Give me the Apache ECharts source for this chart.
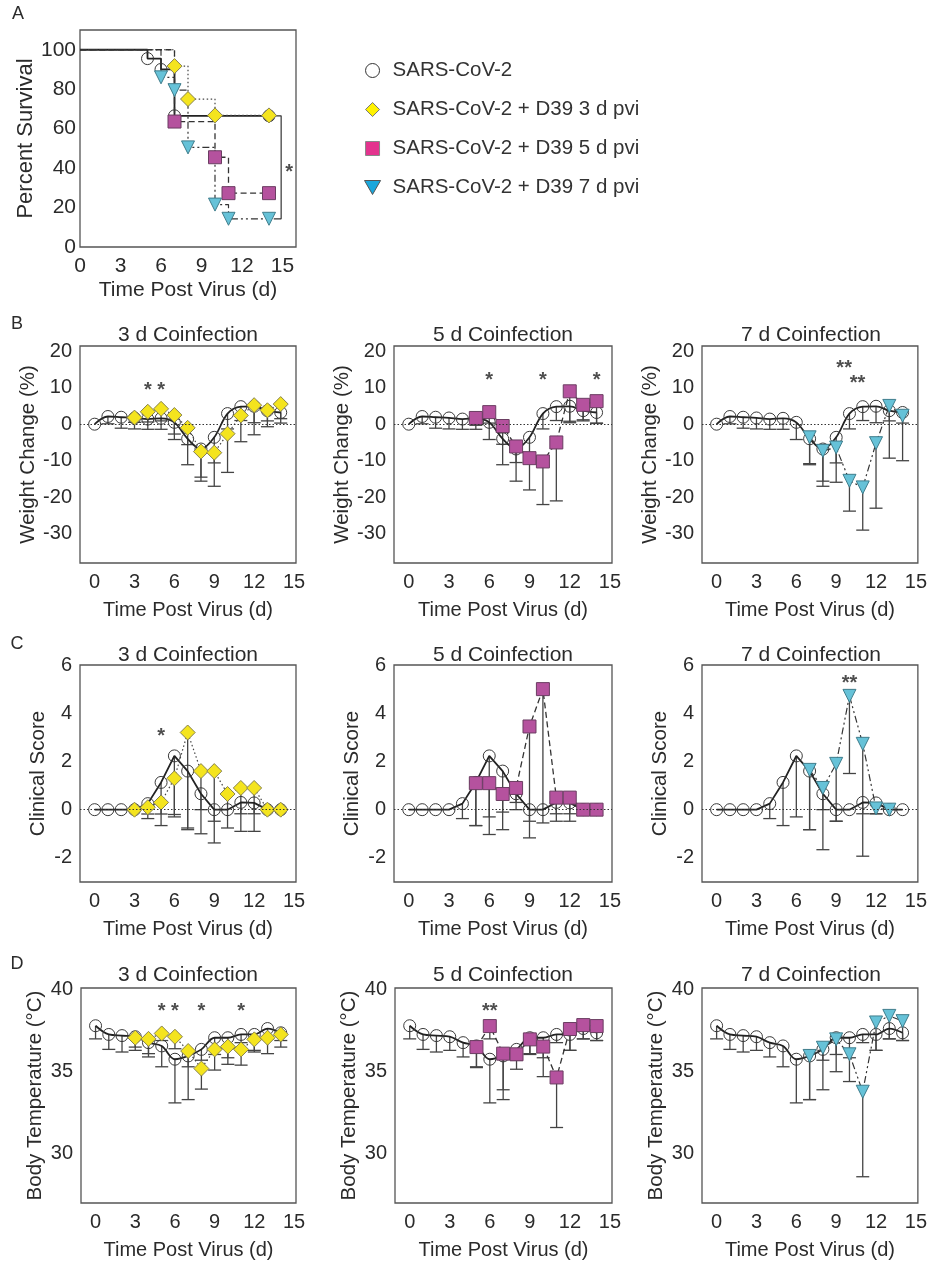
<!DOCTYPE html>
<html>
<head>
<meta charset="utf-8">
<script src="https://cdn.jsdelivr.net/npm/echarts@6/dist/echarts.min.js"></script>
<style>html,body{margin:0;background:#fff}#chart{width:930px;height:1264px}</style>
</head>
<body>
<div id="chart"></div>
<script>
// ---- data ----
var days = [0,1,2,3,4,5,6,7,8,9,10,11,12,13,14];
var days3 = [3,4,5,6,7,8,9,10,11,12,13,14];
var days5 = [5,6,7,8,9,10,11,12,13,14];
var days7 = [7,8,9,10,11,12,13,14];
var days7c = [7,8,9,10,11,12,13];

// A: survival (day, percent)
var survSars = [[0,100],[5,95.5],[6,90],[7,66.5],[14,66.5]];
var surv3d = [[0,100],[7,91.7],[8,75],[10,66.7],[14,66.7]];
var surv5d = [[0,100],[7,63.6],[10,45.5],[11,27.3],[14,27.3]];
var surv7d = [[0,100],[6,86],[7,79.5],[8,50.5],[10,21.5],[11,14.3],[14,14.3]];
var bracketA = [[14.35,66.5],[14.9,66.5],[14.9,14.3],[14.35,14.3]];
var starsA = [[15.5,40.5,'*']];

// B: weight change (mean, lower error)
var wSars   = [0,2.1,1.9,1.7,1.4,1.6,0.5,-4.0,-6.8,-3.6,2.9,4.8,4.9,3.7,3.2];
var wSarsLo = [0,0.1,-1.1,-1.3,-1.4,-1.4,-4.2,-11.1,-15.6,-10.6,-1.3,1.0,0.4,0.9,0.3];
var w3d   = [1.8,3.4,4.2,2.5,-1.0,-7.5,-7.8,-2.6,2.4,5.2,3.8,5.5];
var w3dLo = [0.5,0.6,0.9,-2.7,-5.6,-14.5,-17.0,-13.2,-4.8,-2.9,-0.7,1.5];
var w5d   = [1.7,3.3,-0.5,-6.1,-9.3,-10.2,-5.0,9.0,5.3,6.3];
var w5dLo = [-0.3,0.3,-5.5,-10.5,-18.0,-22.0,-21.0,0.8,1.2,0.2];
var w7d   = [-3.6,-7.3,-6.4,-15.5,-17.3,-5.2,5.0,2.3];
var w7dLo = [-10.8,-17.0,-15.9,-23.8,-29.0,-23.0,-9.3,-10.0];
var starsB3 = [[4,10.5,'*'],[5,10.5,'*']];
var starsB5 = [[6,13.4,'*'],[10,13.4,'*'],[14,13.4,'*']];
var starsB7 = [[9.6,16.6,'**'],[10.6,12.5,'**']];

// C: clinical score
var cSars   = [0,0,0,0,0.25,1.13,2.23,1.6,0.66,0,0,0.3,0.28,0,0];
var cSarsLo = [0,0,0,0,-0.37,-0.66,-0.3,-0.83,0,-0.48,0,-0.17,-0.17,0,0];
var c3d   = [0,0.1,0.3,1.3,3.2,1.6,1.6,0.65,0.9,0.9,0,0];
var c3dLo = [0,-0.18,-0.18,-0.2,-0.76,-1.0,-1.38,-0.76,-0.9,-0.9,0,0];
var c5d   = [1.1,1.1,0.65,0.9,3.45,5.0,0.5,0.5,0,0];
var c5dLo = [-0.66,-1.03,-0.1,0.3,-1.17,-0.55,-0.48,-0.48,0,0];
var c7d   = [1.65,0.9,1.9,4.72,2.73,0.05,0];
var c7dLo = [-0.83,-1.66,-0.48,1.5,-1.93,-0.17,0];
var starsC3 = [[5,3.25,'*']];
var starsC7 = [[10,5.45,'**']];

// D: body temperature
var tSars   = [37.8,37.27,37.2,37.13,36.77,36.57,35.76,35.96,36.36,37.07,37.07,37.27,37.27,37.63,37.37];
var tSarsLo = [37.0,36.36,36.2,36.3,35.9,35.3,33.1,33.3,35.7,36.05,35.85,36.77,36.3,37.0,36.9];
var t3d   = [37.07,37.0,37.33,37.13,36.26,35.19,36.36,36.53,36.36,36.97,37.07,37.27];
var t3dLo = [36.5,36.1,36.9,36.4,35.3,33.94,35.1,35.45,35.4,36.2,36.1,36.5];
var t5d   = [36.5,37.78,36.1,36.06,36.97,36.53,34.65,37.6,37.84,37.78];
var t5dLo = [35.25,37.0,33.9,35.15,36.1,34.7,31.6,36.3,37.0,36.9];
var t7d   = [35.96,36.46,36.97,36.06,33.78,38.0,38.4,38.08];
var t7dLo = [33.3,33.9,35.0,34.4,28.6,36.3,37.0,36.9];
var starsD3 = [[5,39,'*'],[6,39,'*'],[8,39,'*'],[11,39,'*']];
var starsD5 = [[6,39,'**']];

var xTicks = [0,3,6,9,12,15];

// ---- styles ----
var ff = "'Liberation Sans', Arial, sans-serif";
var txt = '#2b2b2b';
var grp = {
  sars: {name:'SARS-CoV-2', symbol:'circle', size:12, rot:0, fill:'rgba(255,255,255,0)', border:'#3a3a3a', line:'#222', width:1.8, type:'solid'},
  d3: {name:'SARS-CoV-2 + D39 3 d pvi', symbol:'diamond', size:15, rot:0, fill:'#F4E41E', border:'#87824f', line:'#444', width:1.2, type:[1.5,2.5]},
  d5: {name:'SARS-CoV-2 + D39 5 d pvi', symbol:'rect', size:13, rot:0, fill:'#B5529E', border:'#6b3d62', line:'#333', width:1.3, type:[6,3.5]},
  d7: {name:'SARS-CoV-2 + D39 7 d pvi', symbol:'triangle', size:13, rot:180, fill:'#66C2D8', border:'#3f7d8c', line:'#333', width:1.2, type:[7,3,2,3,2,3]}
};

var grids = [
  {left:80, top:30, width:216, height:217},
  {left:80, top:346, width:216, height:217},
  {left:394, top:346, width:218, height:217},
  {left:702, top:346, width:218, height:217},
  {left:80, top:665, width:216, height:217},
  {left:394, top:665, width:218, height:217},
  {left:702, top:665, width:218, height:217},
  {left:81, top:988, width:215, height:215},
  {left:395, top:988, width:217, height:215},
  {left:702, top:988, width:216, height:215}
];

function xAx(gi, min, max, gap, fs) {
  return {type:'value', gridIndex:gi, min:min, max:max,
    name:'Time Post Virus (d)', nameLocation:'middle', nameGap:gap,
    nameTextStyle:{fontSize:fs, color:txt, fontFamily:ff},
    axisLine:{show:false}, axisTick:{show:false}, splitLine:{show:false},
    axisLabel:{customValues:xTicks, fontSize:fs, color:txt, margin:9, fontFamily:ff}};
}
function yAx(gi, name, min, max, ticks, gap, margin, fs, nfs) {
  return {type:'value', gridIndex:gi, min:min, max:max,
    name:name, nameLocation:'middle', nameGap:gap,
    nameTextStyle:{fontSize:nfs, color:txt, fontFamily:ff},
    axisLine:{show:false}, axisTick:{show:false}, splitLine:{show:false},
    axisLabel:{customValues:ticks, fontSize:fs, color:txt, margin:margin, fontFamily:ff}};
}

function lineSeries(gi, g, data, opts) {
  var s = {type:'line', name:g.name, xAxisIndex:gi, yAxisIndex:gi, data:data,
    symbol:g.symbol, symbolSize:g.size, symbolRotate:g.rot, z:3,
    itemStyle:{color:g.fill, borderColor:g.border, borderWidth:1},
    lineStyle:{color:g.line, width:g.width, type:g.type},
    emphasis:{disabled:true}};
  return Object.assign(s, opts || {});
}
function pairs(xs, ys) { return xs.map(function (x, i) { return [x, ys[i]]; }); }
function renderErr(params, api) {
  var x = api.value(0), m = api.value(1), lo = api.value(2);
  if (m - lo < 0.02) return null;
  var p1 = api.coord([x, m]), p2 = api.coord([x, lo]);
  var st = {stroke:'#444', lineWidth:1.3};
  return {type:'group', children:[
    {type:'line', shape:{x1:p1[0], y1:p1[1], x2:p2[0], y2:p2[1]}, style:st},
    {type:'line', shape:{x1:p2[0]-6.5, y1:p2[1], x2:p2[0]+6.5, y2:p2[1]}, style:st}
  ]};
}
function errSeries(gi, xs, ys, lo) {
  return {type:'custom', xAxisIndex:gi, yAxisIndex:gi, z:2, silent:true,
    renderItem:renderErr, encode:{x:0, y:[1,2]},
    data: xs.map(function (x, i) { return [x, ys[i], lo[i]]; })};
}
function starSeries(gi, pts) {
  return {type:'scatter', xAxisIndex:gi, yAxisIndex:gi, symbolSize:1, z:5, silent:true,
    itemStyle:{color:'rgba(0,0,0,0)'},
    data: pts.map(function (p) { return {value:[p[0], p[1]], name:p[2]}; }),
    label:{show:true, position:'inside', formatter:'{b}', fontSize:20, fontWeight:'bold', color:'#222', offset:[0,5], fontFamily:ff}};
}
var zeroLine = {silent:true, symbol:['none','none'], label:{show:false},
  lineStyle:{type:[1.5,2], color:'#333', width:1}, data:[{yAxis:0}]};

var xAxes = [xAx(0, 0, 16, 33, 21)];
var yAxes = [yAx(0, 'Percent Survival', 0, 110, [0,20,40,60,80,100], 39, 4, 21, 22)];
var series = [];

// Panel A
function survData(arr) {
  return arr.map(function (p, i) { return i === 0 ? {value:p, symbol:'none'} : {value:p}; });
}
series.push(lineSeries(0, grp.sars, survData(survSars), {step:'end'}));
series.push(lineSeries(0, grp.d3, survData(surv3d), {step:'end'}));
series.push(lineSeries(0, grp.d5, survData(surv5d), {step:'end'}));
series.push(lineSeries(0, grp.d7, survData(surv7d), {step:'end'}));
series.push({type:'line', xAxisIndex:0, yAxisIndex:0, data:bracketA, symbol:'none', silent:true,
  lineStyle:{color:'#333', width:1.2}});
series.push(starSeries(0, starsA));

// Panels B, C, D
var rows = [
  {name:'Weight Change (%)', min:-38, max:21.4, ticks:[-30,-20,-10,0,10,20], gap:41, smooth:0.35, zero:true,
   sars:[wSars, wSarsLo],
   groups:[[days3, w3d, w3dLo, starsB3], [days5, w5d, w5dLo, starsB5], [days7, w7d, w7dLo, starsB7]]},
  {name:'Clinical Score', min:-3, max:6, ticks:[-2,0,2,4,6], gap:31, smooth:false, zero:true,
   sars:[cSars, cSarsLo],
   groups:[[days3, c3d, c3dLo, starsC3], [days5, c5d, c5dLo, []], [days7c, c7d, c7dLo, starsC7]]},
  {name:'Body Temperature (\u00B0C)', min:27, max:40.1, ticks:[30,35,40], gap:35, smooth:0.35, zero:false,
   sars:[tSars, tSarsLo],
   groups:[[days3, t3d, t3dLo, starsD3], [days5, t5d, t5dLo, starsD5], [days7, t7d, t7dLo, []]]}
];
var keys = ['d3','d5','d7'];
rows.forEach(function (r, ri) {
  for (var c = 0; c < 3; c++) {
    var gi = 1 + ri * 3 + c;
    xAxes.push(xAx(gi, -1.1, 15.15, 37, 20));
    yAxes.push(yAx(gi, r.name, r.min, r.max, r.ticks, r.gap, 8, 20, 20.5));
    var g = r.groups[c];
    series.push(errSeries(gi, days, r.sars[0], r.sars[1]));
    series.push(errSeries(gi, g[0], g[1], g[2]));
    var sOpt = {smooth:r.smooth};
    if (r.zero) sOpt.markLine = zeroLine;
    series.push(lineSeries(gi, grp.sars, pairs(days, r.sars[0]), sOpt));
    series.push(lineSeries(gi, grp[keys[c]], pairs(g[0], g[1]), {z:4}));
    if (g[3].length) series.push(starSeries(gi, g[3]));
  }
});

// titles and panel letters
function txtEl(s, x, y, size, align) {
  return {type:'text', x:x, y:y, silent:true,
    style:{text:s, fill:txt, font:size + 'px ' + ff, align:align, textAlign:align,
      verticalAlign:'middle', textVerticalAlign:'middle'}};
}
var graphics = [
  txtEl('A', 18, 14, 18, 'center'), txtEl('B', 17, 324, 18, 'center'),
  txtEl('C', 17, 644, 18, 'center'), txtEl('D', 17, 964, 18, 'center')
];
var colCenters = [188, 503, 811];
var rowTitleY = [335, 655, 975];
var titles = ['3 d Coinfection', '5 d Coinfection', '7 d Coinfection'];
rowTitleY.forEach(function (y) {
  colCenters.forEach(function (x, i) { graphics.push(txtEl(titles[i], x, y, 21, 'center')); });
});

var chart = echarts.init(document.getElementById('chart'));
chart.setOption({
  animation:false,
  backgroundColor:'#fff',
  textStyle:{fontFamily:ff},
  grid: grids.map(function (g) { return Object.assign({show:true, borderColor:'#555', borderWidth:1.3}, g); }),
  xAxis:xAxes,
  yAxis:yAxes,
  series:series,
  legend:{orient:'vertical', left:359, top:55, itemGap:18, itemWidth:30, itemHeight:14,
    selectedMode:false,
    textStyle:{fontSize:20.5, color:'#333', fontFamily:ff},
    data:[
      {name:grp.sars.name, icon:'path://M10,5 A5,5 0 1 1 0,5 A5,5 0 1 1 10,5 Z', itemStyle:{color:'#fff', borderColor:'#333', borderWidth:1}},
      {name:grp.d3.name, icon:'path://M5,0 L10,5 L5,10 L0,5 Z', itemStyle:{color:'#FFF200', borderColor:'#777', borderWidth:1}},
      {name:grp.d5.name, icon:'path://M0,0 L10,0 L10,10 L0,10 Z', itemStyle:{color:'#E3338E', borderColor:'#888', borderWidth:1}},
      {name:grp.d7.name, icon:'path://M0,0 L10,0 L5,8.7 Z', itemStyle:{color:'#1AA7DC', borderColor:'#555', borderWidth:1}}
    ]},
  graphic:graphics
});
</script>
</body>
</html>
